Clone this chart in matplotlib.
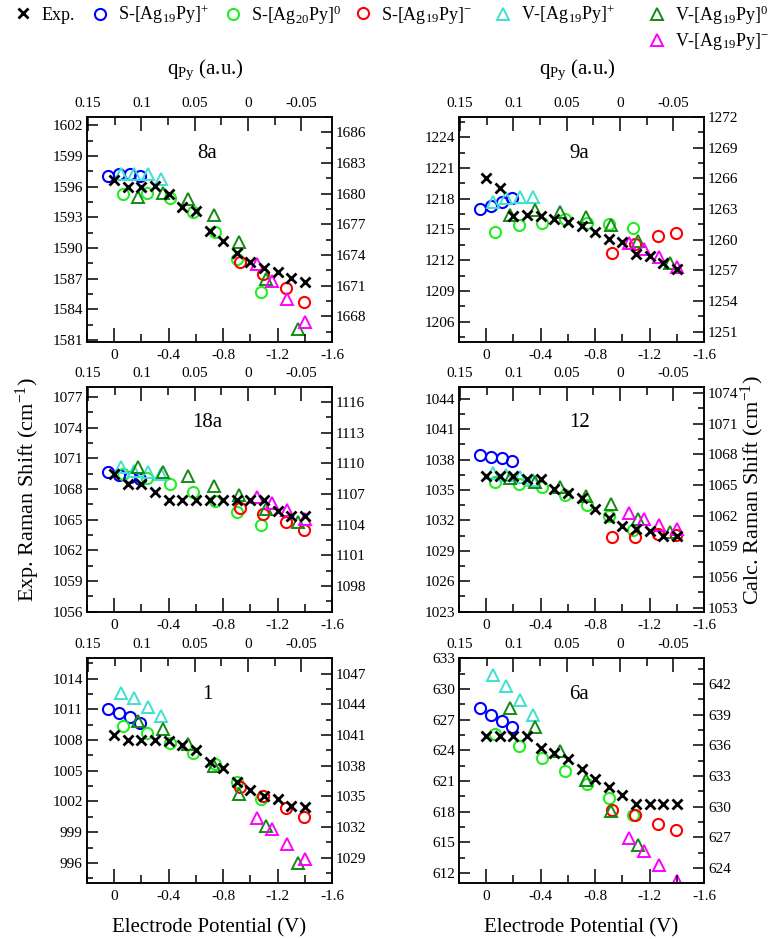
import matplotlib
matplotlib.use("Agg")
import matplotlib.pyplot as plt
from matplotlib.lines import Line2D
from matplotlib.ticker import MultipleLocator, FormatStrFormatter

plt.rcParams["font.family"] = "Liberation Serif"
plt.rcParams["mathtext.fontset"] = "custom"
plt.rcParams["mathtext.rm"] = "Liberation Serif"
plt.rcParams["mathtext.it"] = "Liberation Serif:italic"
plt.rcParams["axes.unicode_minus"] = False

# ---- data ----
# electrode potential of the experimental points (V)
exp_potential = [0, -0.1, -0.2, -0.3, -0.4, -0.5, -0.6, -0.7, -0.8, -0.9, -1.0, -1.1, -1.2, -1.3, -1.4]
# pyridine charge of the computed points (a.u.)
q_s_plus = [0.131, 0.121, 0.111, 0.101]
q_s_zero = [0.117, 0.095, 0.073, 0.052, 0.031, 0.010, -0.012]
q_s_minus = [0.0075, -0.014, -0.0355, -0.052]
q_v_plus = [0.119, 0.1065, 0.094, 0.082]
q_v_zero = [0.103, 0.0795, 0.056, 0.032, 0.0085, -0.017, -0.0465]
q_v_minus = [-0.008, -0.0225, -0.0365, -0.0535]

# mode 8a
exp_8a = [1596.6, 1596.0, 1596.0, 1596.05, 1595.25, 1594.0, 1593.6, 1591.7, 1590.7, 1589.5, 1588.65, 1588.0, 1587.6, 1587.1, 1586.65]
s_plus_8a = [1681.78, 1681.97, 1681.88, 1681.78]
s_zero_8a = [1679.93, 1680.09, 1679.6, 1678.2, 1676.26, 1673.66, 1670.4]
s_minus_8a = [1673.34, 1672.14, 1670.74, 1669.38]
v_plus_8a = [1681.88, 1681.88, 1681.88, 1681.45]
v_zero_8a = [1679.7, 1680.03, 1679.44, 1677.88, 1675.29, 1671.65, 1666.78]
v_minus_8a = [1673.11, 1671.49, 1669.7, 1667.43]

# mode 9a
exp_9a = [1220.03, 1219.05, 1216.35, 1216.44, 1216.35, 1216.0, 1215.7, 1215.37, 1214.8, 1214.1, 1213.74, 1212.63, 1212.37, 1211.7, 1211.13]
s_plus_9a = [1262.98, 1263.31, 1263.73, 1264.06]
s_zero_9a = [1260.79, 1261.44, 1261.67, 1262.0, 1261.67, 1261.51, 1261.12]
s_minus_9a = [1258.67, 1259.58, 1260.37, 1260.69]
v_plus_9a = [1263.73, 1264.06, 1264.16, 1264.16]
v_zero_9a = [1262.42, 1262.91, 1262.75, 1262.26, 1261.44, 1259.91, 1257.75]
v_minus_9a = [1259.71, 1259.09, 1258.34, 1257.29]

# mode 18a
exp_18a = [1069.44, 1068.47, 1068.53, 1067.72, 1066.91, 1066.91, 1066.91, 1066.91, 1066.91, 1066.91, 1066.91, 1066.91, 1065.87, 1065.39, 1065.39]
s_plus_18a = [1109.19, 1108.87, 1108.64, 1108.47]
s_zero_18a = [1108.96, 1108.54, 1107.98, 1107.23, 1106.35, 1105.2, 1103.96]
s_minus_18a = [1105.6, 1105.04, 1104.29, 1103.5]
v_plus_18a = [1109.62, 1109.29, 1109.13, 1108.96]
v_zero_18a = [1109.62, 1109.19, 1108.8, 1107.82, 1106.9, 1105.53, 1104.29]
v_minus_18a = [1106.67, 1106.12, 1105.43, 1104.61]

# mode 12
exp_12 = [1036.39, 1036.39, 1036.39, 1036.13, 1036.07, 1035.15, 1034.75, 1034.26, 1033.18, 1032.2, 1031.41, 1031.15, 1030.98, 1030.43, 1030.43]
s_plus_12 = [1067.9, 1067.74, 1067.58, 1067.35]
s_zero_12 = [1065.29, 1065.07, 1064.81, 1064.0, 1063.01, 1061.94, 1060.63]
s_minus_12 = [1059.91, 1059.91, 1060.24, 1060.08]
v_plus_12 = [1066.17, 1065.95, 1065.78, 1065.46]
v_zero_12 = [1065.72, 1065.29, 1064.81, 1063.89, 1063.11, 1061.71, 1060.4]
v_minus_12 = [1062.26, 1061.71, 1061.06, 1060.73]

# mode 1
exp_1 = [1008.46, 1007.97, 1007.97, 1007.97, 1007.88, 1007.55, 1007.0, 1005.86, 1005.27, 1003.9, 1003.15, 1002.57, 1002.24, 1001.52, 1001.46]
s_plus_1 = [1043.59, 1043.17, 1042.78, 1042.13]
s_zero_1 = [1041.88, 1041.23, 1040.19, 1039.22, 1038.15, 1036.39, 1034.77]
s_minus_1 = [1035.91, 1035.06, 1033.86, 1032.99]
v_plus_1 = [1045.12, 1044.57, 1043.69, 1042.85]
v_zero_1 = [1042.39, 1041.55, 1040.12, 1037.98, 1035.26, 1032.08, 1028.51]
v_minus_1 = [1032.89, 1031.82, 1030.39, 1028.84]

# mode 6a
exp_6a = [625.41, 625.41, 625.41, 625.41, 624.2, 623.78, 623.12, 622.14, 621.16, 620.44, 619.59, 618.8, 618.8, 618.8, 618.8]
s_plus_6a = [639.65, 639.0, 638.41, 637.76]
s_zero_6a = [637.11, 635.97, 634.76, 633.46, 632.22, 630.85, 629.15]
s_minus_6a = [629.71, 629.22, 628.34, 627.69]
v_plus_6a = [642.91, 641.77, 640.47, 639.0]
v_zero_6a = [639.65, 637.76, 635.41, 632.64, 629.54, 626.28]
v_minus_6a = [626.94, 625.63, 624.33, 622.70]

mode_names = ["8a", "9a", "18a", "12", "1", "6a"]
exp_limits = [(1580.8, 1602.8), (1204, 1226), (1056, 1078), (1023, 1045.2), (994, 1016), (611, 633)]
calc_limits = [(1665.5, 1687.5), (1250, 1272), (1095.5, 1117.5), (1052.6, 1074.6), (1026.5, 1048.5), (622.5, 644.5)]

potential_ticks = [0, -0.4, -0.8, -1.2, -1.6]
potential_labels = ["0", "-0.4", "-0.8", "-1.2", "-1.6"]
potential_minor = [0.2, -0.2, -0.6, -1.0, -1.4]
q_ticks = [0.15, 0.1, 0.05, 0, -0.05]
q_labels = ["0.15", "0.1", "0.05", "0", "-0.05"]
q_minor = [0.125, 0.075, 0.025, -0.025]

series_labels = ["Exp.", "S-[Ag$_{19}$Py]$^{+}$", "S-[Ag$_{20}$Py]$^{0}$", "S-[Ag$_{19}$Py]$^{-}$",
                 "V-[Ag$_{19}$Py]$^{+}$", "V-[Ag$_{19}$Py]$^{0}$", "V-[Ag$_{19}$Py]$^{-}$"]

panels = [
    (exp_8a, [s_plus_8a, s_zero_8a, s_minus_8a, v_plus_8a, v_zero_8a, v_minus_8a]),
    (exp_9a, [s_plus_9a, s_zero_9a, s_minus_9a, v_plus_9a, v_zero_9a, v_minus_9a]),
    (exp_18a, [s_plus_18a, s_zero_18a, s_minus_18a, v_plus_18a, v_zero_18a, v_minus_18a]),
    (exp_12, [s_plus_12, s_zero_12, s_minus_12, v_plus_12, v_zero_12, v_minus_12]),
    (exp_1, [s_plus_1, s_zero_1, s_minus_1, v_plus_1, v_zero_1, v_minus_1]),
    (exp_6a, [s_plus_6a, s_zero_6a, s_minus_6a, v_plus_6a, v_zero_6a, v_minus_6a]),
]
calc_q = [q_s_plus, q_s_zero, q_s_minus, q_v_plus, q_v_zero, q_v_minus]

# ---- styles ----
W, H = 778, 939
exp_style = dict(ls="none", marker="x", color="black", ms=7, mew=2.0)
calc_styles = [
    dict(marker="o", mec="#0000ff", ms=8, mew=1.5),
    dict(marker="o", mec="#22ee22", ms=8, mew=1.5),
    dict(marker="o", mec="#ff0000", ms=8, mew=1.5),
    dict(marker="^", mec="#40e0d0", ms=8.5, mew=1.4),
    dict(marker="^", mec="#148a14", ms=8.5, mew=1.4),
    dict(marker="^", mec="#ff00ff", ms=8.5, mew=1.4),
]

fig = plt.figure(figsize=(W / 100, H / 100), dpi=100)

col_x = [87, 459]
row_top = [117, 386.7, 658.3]
pw, ph = 245, 225

for i, (exp_vals, calc_sets) in enumerate(panels):
    r, c = divmod(i, 2)
    pos = [col_x[c] / W, 1 - (row_top[r] + ph) / H, pw / W, ph / H]
    axc = fig.add_axes(pos)   # calculated: q on top, shift on the right
    ax = fig.add_axes(pos)    # experiment: potential at the bottom, shift on the left
    ax.patch.set_visible(False)

    for q, vals, st in zip(calc_q, calc_sets, calc_styles):
        axc.plot(q[:len(vals)], vals, ls="none", mfc="none", **st)
    ax.plot(exp_potential, exp_vals, **exp_style)

    ax.set_xlim(0.2, -1.6)
    ax.set_ylim(*exp_limits[i])
    axc.set_xlim(0.151, -0.0786)
    axc.set_ylim(*calc_limits[i])

    axc.xaxis.tick_top()
    axc.yaxis.tick_right()
    ax.set_xticks(potential_ticks, labels=potential_labels)
    ax.set_xticks(potential_minor, minor=True)
    axc.set_xticks(q_ticks, labels=q_labels)
    axc.set_xticks(q_minor, minor=True)
    for a in (ax, axc):
        a.yaxis.set_major_locator(MultipleLocator(3))
        a.yaxis.set_minor_locator(MultipleLocator(1.5))
        a.yaxis.set_major_formatter(FormatStrFormatter("%d"))
        a.tick_params(which="both", direction="in", width=1.1, labelsize=11)
        a.tick_params(axis="x", which="major", length=10, pad=5)
        a.tick_params(axis="x", which="minor", length=5.5)
        a.tick_params(axis="y", which="major", length=8, pad=3)
        a.tick_params(axis="y", which="minor", length=4.5)
        for s in a.spines.values():
            s.set_linewidth(1.1)
    ax.xaxis.set_ticks_position("bottom")
    ax.yaxis.set_ticks_position("left")

    ax.text(0.49, 0.84, mode_names[i], transform=ax.transAxes, ha="center", va="center", fontsize=15)

# axis titles
fig.text(28 / W, 1 - 490 / H, "Exp. Raman Shift (cm$^{-1}$)", rotation=90, ha="center", va="center", fontsize=16)
fig.text(752 / W, 1 - 490 / H, "Calc. Raman Shift (cm$^{-1}$)", rotation=90, ha="center", va="center", fontsize=16)
for cx in (209.5, 581.5):
    fig.text(cx / W, 1 - 928 / H, "Electrode Potential (V)", ha="center", va="center", fontsize=15)
    fig.text((cx - 4) / W, 1 - 70 / H, "q$_{\\mathrm{Py}}$ (a.u.)", ha="center", va="center", fontsize=15)

# legend, one entry at a time to keep the spacing of the original
handles = [Line2D([], [], **exp_style)] + [Line2D([], [], ls="none", mfc="none", **st) for st in calc_styles]
legend_x = [23, 100, 233, 363, 503, 657, 657]
legend_y = [15, 15, 15, 15, 15, 15, 42]
for h, lab, lx, ly in zip(handles, series_labels, legend_x, legend_y):
    fig.legend(handles=[h], labels=[lab], loc="center left", bbox_to_anchor=((lx - 9) / W, 1 - ly / H),
               frameon=False, handlelength=1.0, handletextpad=0.5, borderpad=0, borderaxespad=0, fontsize=13)

fig.savefig("out.png", dpi=100)
